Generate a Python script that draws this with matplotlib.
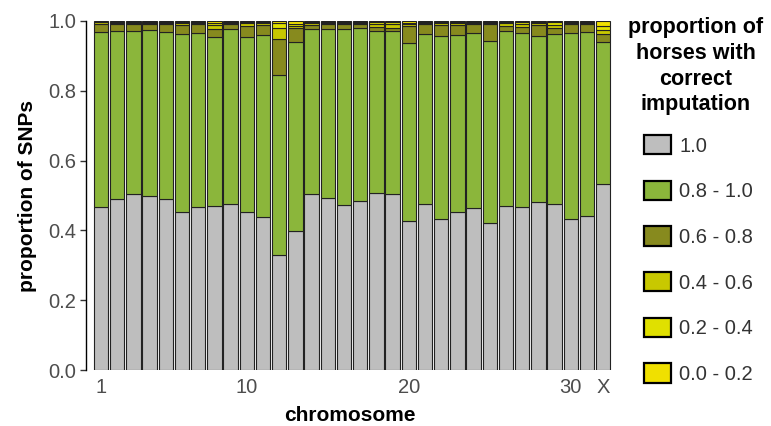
import numpy as np
import matplotlib
matplotlib.use("Agg")
import matplotlib.pyplot as plt
from matplotlib.patches import Patch

plt.rcParams['font.family'] = ['Liberation Sans', 'DejaVu Sans']

# chromosomes on the x axis
chromosomes = [str(i) for i in range(1, 32)] + ['X']
tick_pos = [1, 10, 20, 30, 32]
tick_labels = ['1', '10', '20', '30', 'X']

# proportion of SNPs per class of "proportion of horses with correct imputation"
p_10 = [0.468, 0.489, 0.504, 0.500, 0.491, 0.454, 0.466, 0.471, 0.475, 0.454, 0.439,
        0.330, 0.397, 0.504, 0.493, 0.473, 0.485, 0.506, 0.504, 0.427, 0.477, 0.433,
        0.454, 0.465, 0.420, 0.470, 0.468, 0.482, 0.476, 0.434, 0.441, 0.533]
p_08 = [0.501, 0.483, 0.466, 0.473, 0.477, 0.509, 0.501, 0.483, 0.502, 0.501, 0.521,
        0.515, 0.542, 0.472, 0.484, 0.504, 0.494, 0.465, 0.468, 0.511, 0.486, 0.524,
        0.506, 0.500, 0.523, 0.502, 0.497, 0.476, 0.487, 0.531, 0.528, 0.408]
p_06 = [0.023, 0.019, 0.020, 0.018, 0.023, 0.026, 0.023, 0.024, 0.013, 0.031, 0.029,
        0.103, 0.042, 0.013, 0.014, 0.014, 0.011, 0.011, 0.009, 0.048, 0.028, 0.032,
        0.029, 0.025, 0.048, 0.013, 0.019, 0.031, 0.018, 0.026, 0.021, 0.023]
p_04 = [0.004, 0.004, 0.005, 0.004, 0.004, 0.006, 0.005, 0.010, 0.005, 0.007, 0.006,
        0.031, 0.005, 0.005, 0.004, 0.004, 0.005, 0.008, 0.009, 0.005, 0.004, 0.006,
        0.006, 0.005, 0.004, 0.008, 0.008, 0.006, 0.008, 0.004, 0.005, 0.010]
p_02 = [0.002, 0.003, 0.003, 0.003, 0.003, 0.003, 0.003, 0.007, 0.003, 0.004, 0.003,
        0.014, 0.006, 0.003, 0.003, 0.003, 0.003, 0.006, 0.006, 0.004, 0.003, 0.003,
        0.003, 0.003, 0.003, 0.004, 0.005, 0.003, 0.007, 0.003, 0.003, 0.011]
p_00 = [0.002, 0.002, 0.002, 0.002, 0.002, 0.002, 0.002, 0.005, 0.002, 0.003, 0.002,
        0.007, 0.008, 0.003, 0.002, 0.002, 0.002, 0.004, 0.004, 0.005, 0.002, 0.002,
        0.002, 0.002, 0.002, 0.003, 0.003, 0.002, 0.004, 0.002, 0.002, 0.015]

classes = ['1.0', '0.8 - 1.0', '0.6 - 0.8', '0.4 - 0.6', '0.2 - 0.4', '0.0 - 0.2']
colors = ['#bebebe', '#8bb63b', '#878a1e', '#c8c800', '#e0e000', '#f0e000']
series = [p_10, p_08, p_06, p_04, p_02, p_00]

fig = plt.figure(figsize=(7.71, 4.26), dpi=100)
ax = fig.add_axes([86 / 771, 56 / 426, (613 - 86) / 771, 349 / 426])

x = np.arange(1, len(chromosomes) + 1)
bottom = np.zeros(len(chromosomes))
for vals, col in zip(series, colors):
    vals = np.array(vals)
    ax.bar(x, vals, width=0.89, bottom=bottom, color=col,
           edgecolor='#222222', linewidth=0.8)
    bottom += vals

ax.set_xlim(0.07, 32.6)
ax.set_ylim(0, 1)
ax.set_yticks([0, 0.2, 0.4, 0.6, 0.8, 1.0])
ax.set_yticklabels(['0.0', '0.2', '0.4', '0.6', '0.8', '1.0'])
ax.set_xticks(tick_pos)
ax.set_xticklabels(tick_labels)

for s in ['top', 'right', 'bottom']:
    ax.spines[s].set_visible(False)
ax.spines['left'].set_linewidth(1.0)
ax.spines['left'].set_color('black')
ax.tick_params(axis='y', length=4, width=1, color='#333333',
               labelsize=14.5, labelcolor='#4d4d4d', pad=3)
ax.tick_params(axis='x', length=0, labelsize=14.5, labelcolor='#4d4d4d', pad=6)

ax.set_ylabel('proportion of SNPs', fontsize=15, fontweight='bold', labelpad=8)
ax.set_xlabel('chromosome', fontsize=15, fontweight='bold', labelpad=6)

# legend
fig.text(696 / 771, 1 - 17 / 426,
         'proportion of\nhorses with\ncorrect\nimputation',
         ha='center', va='top', fontsize=15.5, fontweight='bold',
         linespacing=1.3)
handles = [Patch(facecolor=c, edgecolor='black', linewidth=1.6) for c in colors]
fig.legend(handles, classes, loc='upper left',
           bbox_to_anchor=(644 / 771, 1 - 135 / 426),
           frameon=False, fontsize=14.5, handlelength=1.35, handleheight=1.1,
           labelspacing=1.25, handletextpad=0.4, borderpad=0, borderaxespad=0,
           labelcolor='#333333')

fig.savefig('out.png', dpi=100)
